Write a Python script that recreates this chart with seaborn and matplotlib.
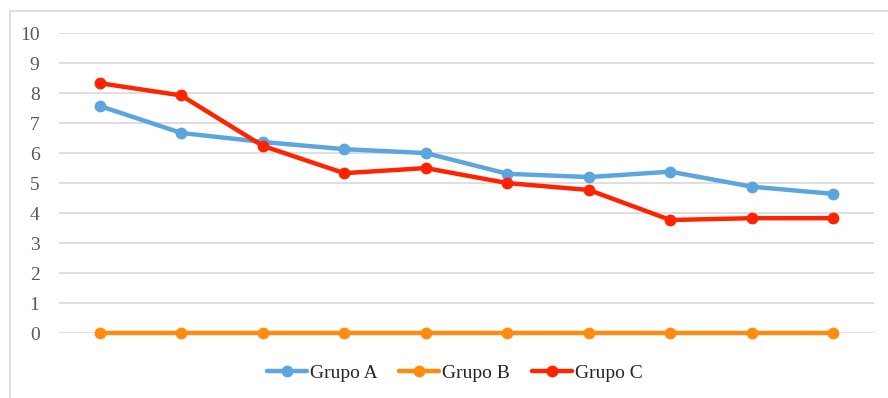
import matplotlib
matplotlib.use("Agg")
import matplotlib.pyplot as plt
import seaborn as sns
import pandas as pd
from matplotlib.lines import Line2D

points = list(range(1, 11))
grupo_a = [7.57, 6.67, 6.37, 6.13, 6.0, 5.31, 5.2, 5.38, 4.88, 4.64]
grupo_b = [0, 0, 0, 0, 0, 0, 0, 0, 0, 0]
grupo_c = [8.33, 7.92, 6.24, 5.33, 5.5, 5.0, 4.77, 3.77, 3.83, 3.83]
series_names = ["Grupo A", "Grupo B", "Grupo C"]
y_ticks = list(range(0, 11))

df = pd.DataFrame({
    "x": points * 3,
    "y": grupo_a + grupo_b + grupo_c,
    "serie": [series_names[0]] * 10 + [series_names[1]] * 10 + [series_names[2]] * 10,
})

sns.set_theme(style="white")
plt.rcParams["font.family"] = ["Liberation Serif", "DejaVu Serif"]

fig = plt.figure(figsize=(8.88, 3.98), dpi=100)
ax = fig.add_axes([0.0664, 0.163, 0.918, 0.754])

palette = {"Grupo A": "#5DA5DE", "Grupo B": "#FF8C0F", "Grupo C": "#FF2300"}
sns.lineplot(data=df, x="x", y="y", hue="serie", palette=palette, marker="o",
             markersize=8.5, markeredgewidth=0, linewidth=3.2, ax=ax, legend=True)
for ln in ax.get_lines():
    ln.set_clip_on(False)

ax.set_xlim(0.5, 10.5)
ax.set_ylim(0, 10)
ax.set_yticks(y_ticks)
ax.set_yticklabels([str(t) for t in y_ticks], fontsize=14, color="#595959")
ax.set_xticks([])
ax.set_xlabel("")
ax.set_ylabel("")
ax.grid(axis="y", color="#D9D9D9", linewidth=1.2)
ax.set_axisbelow(True)
for s in ax.spines.values():
    s.set_visible(False)
ax.tick_params(axis="y", length=0, pad=14)

handles, labels = ax.get_legend_handles_labels()
ax.get_legend().remove()
leg = fig.legend(handles, labels, loc="center", bbox_to_anchor=(0.512, 0.063), ncol=3,
                 frameon=False, fontsize=14, handlelength=2.05, handletextpad=0.15,
                 columnspacing=1.13)

# chart frame (top and left edges visible)
fig.add_artist(Line2D([0.0107, 1.0], [0.972, 0.972], transform=fig.transFigure,
                      color="#D9D9D9", linewidth=1.2))
fig.add_artist(Line2D([0.0107, 0.0107], [0.0, 0.972], transform=fig.transFigure,
                      color="#D9D9D9", linewidth=1.2))

fig.savefig("out.png", dpi=100)
